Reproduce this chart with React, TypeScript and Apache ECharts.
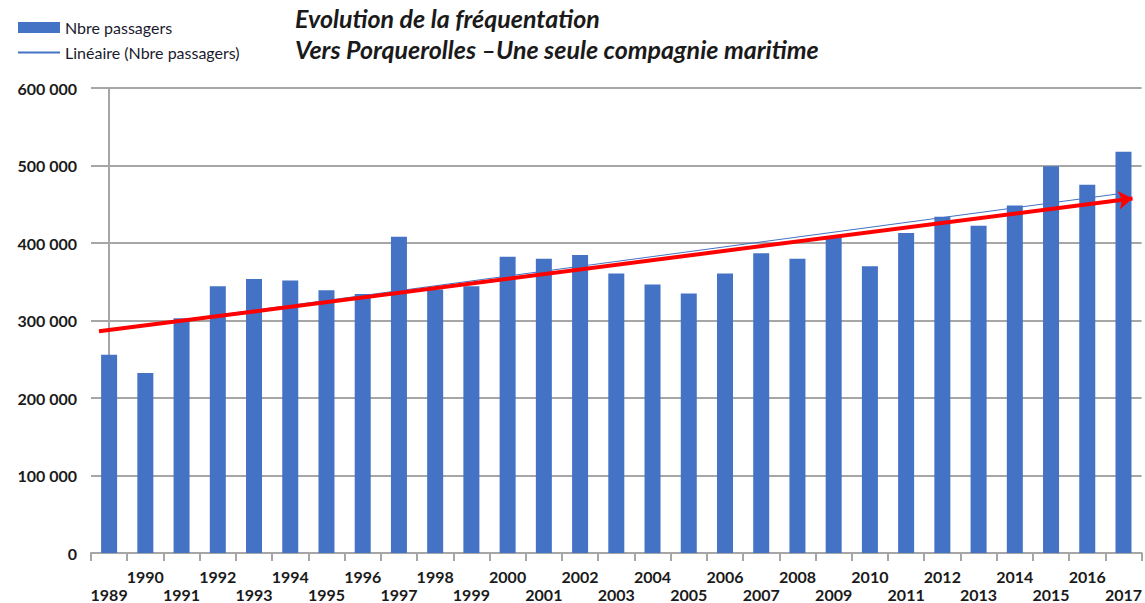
import React, { useEffect, useRef } from 'react';
import * as echarts from 'echarts';

const years = ['1989','1990','1991','1992','1993','1994','1995','1996','1997','1998','1999','2000','2001','2002','2003','2004','2005','2006','2007','2008','2009','2010','2011','2012','2013','2014','2015','2016','2017'];
const passengers = [255800, 232200, 303000, 344200, 353600, 351500, 339100, 334300, 408200, 340000, 344200, 382400, 379800, 384500, 360500, 346400, 334800, 360500, 386700, 379800, 409000, 370000, 412900, 433900, 422300, 448500, 499100, 475100, 517600];
const yMin = 0;
const yMax = 600000;
const yStep = 100000;
// hand-drawn red arrow (x in category index units, y in passengers)
const arrowStart = [-0.28, 286000];
const arrowEnd = [28.25, 457500];

const titleLines = ['Evolution de la fréquentation', 'Vers Porquerolles –Une seule compagnie maritime'];
const barName = 'Nbre passagers';
const trendName = 'Linéaire (Nbre passagers)';

function linearTrend(vals: number[]): number[][] {
  const n = vals.length;
  const mx = (n - 1) / 2;
  const my = vals.reduce((a, b) => a + b, 0) / n;
  let sxy = 0, sxx = 0;
  vals.forEach((v, i) => { sxy += (i - mx) * (v - my); sxx += (i - mx) * (i - mx); });
  const b = sxy / sxx;
  const a = my - b * mx;
  return [[0, a], [n - 1, a + b * (n - 1)]];
}

const FONT = 'Lato, "Open Sans", sans-serif';

export default function App() {
  const ref = useRef<HTMLDivElement>(null);
  useEffect(() => {
    if (!ref.current) return;
    const chart = echarts.init(ref.current, null, { renderer: 'svg' });
    const grey = '#a6a6a6';
    const titleStyle = { fontFamily: FONT, fontSize: 25, fontWeight: 'bold', fontStyle: 'italic', color: '#1a1a1a', lineHeight: 25 };
    chart.setOption({
      animation: false,
      textStyle: { fontFamily: FONT },
      title: titleLines.map((t, i) => ({
        text: t,
        left: 295,
        top: 5 + i * 31,
        padding: 0,
        textStyle: titleStyle,
      })),
      legend: {
        orient: 'vertical',
        left: 12,
        top: 14,
        itemWidth: 42,
        itemHeight: 11,
        itemGap: 8,
        data: [
          { name: barName, icon: 'rect' },
          { name: trendName, itemStyle: { opacity: 0 } },
        ],
        textStyle: { fontFamily: FONT, fontSize: 16, color: '#1a1a2e', lineHeight: 17 },
      },
      grid: { left: 91, right: 0, top: 88, bottom: 48, containLabel: false },
      xAxis: [
        {
          type: 'category',
          data: years,
          boundaryGap: true,
          axisLine: { show: true, lineStyle: { color: grey, width: 2 } },
          axisTick: { show: true, interval: 0, length: 8, lineStyle: { color: grey, width: 2 } },
          axisLabel: {
            interval: 0,
            margin: 14,
            fontFamily: FONT,
            fontSize: 16,
            fontWeight: 'bold',
            color: '#1a1a1a',
            lineHeight: 18,
            formatter: (v: string, i: number) => (i % 2 === 1 ? v : '\n' + v),
          },
          splitLine: { show: false },
        },
        {
          type: 'value',
          min: -0.5,
          max: years.length - 0.5,
          show: false,
        },
      ],
      yAxis: {
        type: 'value',
        min: yMin,
        max: yMax,
        interval: yStep,
        axisLine: { show: true, lineStyle: { color: grey, width: 2 } },
        axisTick: { show: true, length: 7, lineStyle: { color: grey, width: 2 } },
        axisLabel: {
          margin: 14,
          fontFamily: FONT,
          fontSize: 16,
          fontWeight: 'bold',
          color: '#1a1a1a',
          formatter: (v: number) => (v === 0 ? '0' : v / 1000 + ' 000'),
        },
        splitLine: { show: true, lineStyle: { color: grey, width: 2 } },
      },
      series: [
        {
          name: barName,
          type: 'bar',
          data: passengers,
          barWidth: 16,
          itemStyle: { color: '#4472c4' },
        },
        {
          name: trendName,
          type: 'line',
          xAxisIndex: 1,
          data: linearTrend(passengers),
          symbol: 'none',
          showSymbol: false,
          lineStyle: { color: '#4472c4', width: 1 },
          itemStyle: { color: '#4472c4' },
          z: 3,
        },
        {
          name: 'arrow',
          type: 'line',
          xAxisIndex: 1,
          data: [],
          z: 4,
          markLine: {
            silent: true,
            symbol: ['none', 'arrow'],
            symbolSize: [14, 14],
            label: { show: false },
            lineStyle: { color: '#ff0000', width: 4, type: 'solid' },
            data: [[{ coord: arrowStart }, { coord: arrowEnd }]],
          },
        },
      ],
    });
    return () => chart.dispose();
  }, []);
  return (
    <div
      ref={ref}
      style={{ position: 'fixed', left: 0, top: 0, width: 1145, height: 603, background: '#fff' }}
    />
  );
}
